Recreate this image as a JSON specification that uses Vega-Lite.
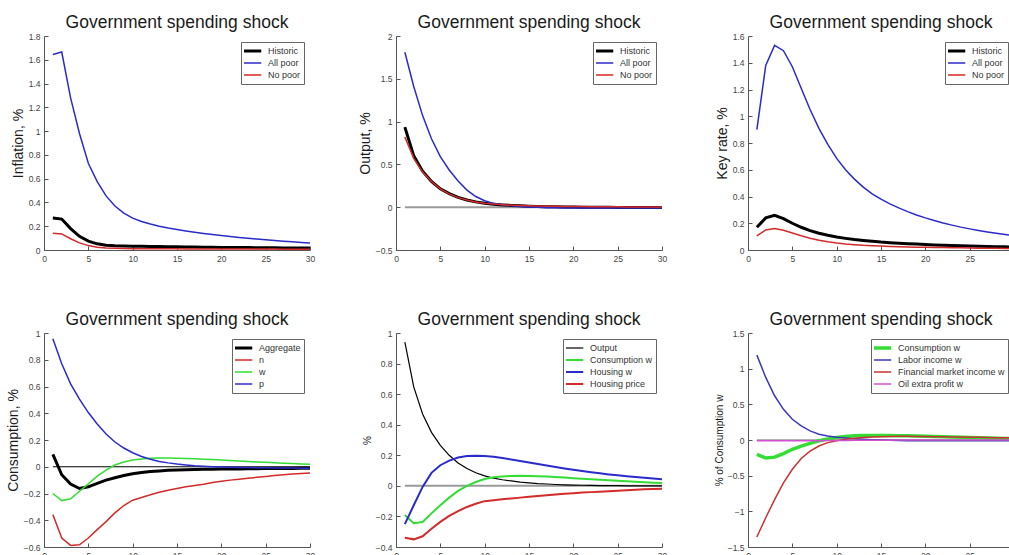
{
  "$schema": "https://vega.github.io/schema/vega-lite/v6.json",
  "autosize": {"type": "pad"},
  "padding": {"left": 6, "top": 13, "right": 0, "bottom": 0},
  "background": "white",
  "config": {
    "font": "Liberation Sans",
    "view": {"stroke": null},
    "title": {"fontSize": 17.5, "fontWeight": "normal", "color": "#1a1a1a", "font": "Liberation Sans", "baseline": "alphabetic", "offset": 1, "frame": "group"},
    "axis": {"grid": false, "domainColor": "#555", "tickColor": "#555", "tickSize": -4, "labelPadding": 8, "labelFontSize": 8.5, "labelColor": "#444", "labelFont": "Liberation Sans", "titleFont": "Liberation Sans", "titleFontWeight": "normal", "titleColor": "#1a1a1a", "titleFontSize": 14, "titlePadding": 3, "labelFlush": false, "labelOverlap": false},
    "legend": {"orient": "top-right", "offset": 6, "strokeColor": "#666", "fillColor": "white", "padding": 3, "symbolType": "stroke", "symbolSize": 650, "clipHeight": 12, "labelFontSize": 9, "labelColor": "#333", "labelFont": "Liberation Sans", "rowPadding": 0, "labelOffset": 15, "titlePadding": 0}
  },
  "datasets": {
    "inflation": [
      {"t":1,"Historic":0.27,"All poor":1.645,"No poor":0.14},
      {"t":2,"Historic":0.26,"All poor":1.665,"No poor":0.135},
      {"t":3,"Historic":0.18,"All poor":1.28,"No poor":0.095},
      {"t":4,"Historic":0.115,"All poor":0.98,"No poor":0.06},
      {"t":5,"Historic":0.075,"All poor":0.73,"No poor":0.037},
      {"t":6,"Historic":0.052,"All poor":0.575,"No poor":0.024},
      {"t":7,"Historic":0.04,"All poor":0.455,"No poor":0.017},
      {"t":8,"Historic":0.035,"All poor":0.37,"No poor":0.014},
      {"t":9,"Historic":0.033,"All poor":0.31,"No poor":0.012},
      {"t":10,"Historic":0.032,"All poor":0.268,"No poor":0.011},
      {"t":11,"Historic":0.031,"All poor":0.24,"No poor":0.011},
      {"t":12,"Historic":0.03,"All poor":0.218,"No poor":0.01},
      {"t":13,"Historic":0.029,"All poor":0.2,"No poor":0.01},
      {"t":14,"Historic":0.028,"All poor":0.185,"No poor":0.01},
      {"t":15,"Historic":0.027,"All poor":0.172,"No poor":0.01},
      {"t":16,"Historic":0.026,"All poor":0.16,"No poor":0.009},
      {"t":17,"Historic":0.025,"All poor":0.149,"No poor":0.009},
      {"t":18,"Historic":0.024,"All poor":0.139,"No poor":0.009},
      {"t":19,"Historic":0.023,"All poor":0.13,"No poor":0.009},
      {"t":20,"Historic":0.022,"All poor":0.121,"No poor":0.009},
      {"t":21,"Historic":0.021,"All poor":0.113,"No poor":0.008},
      {"t":22,"Historic":0.02,"All poor":0.106,"No poor":0.008},
      {"t":23,"Historic":0.02,"All poor":0.099,"No poor":0.008},
      {"t":24,"Historic":0.019,"All poor":0.092,"No poor":0.008},
      {"t":25,"Historic":0.018,"All poor":0.086,"No poor":0.008},
      {"t":26,"Historic":0.018,"All poor":0.08,"No poor":0.008},
      {"t":27,"Historic":0.017,"All poor":0.074,"No poor":0.007},
      {"t":28,"Historic":0.017,"All poor":0.069,"No poor":0.007},
      {"t":29,"Historic":0.016,"All poor":0.064,"No poor":0.007},
      {"t":30,"Historic":0.016,"All poor":0.059,"No poor":0.007}
    ],
    "output": [
      {"t":1,"Historic":0.935,"All poor":1.81,"No poor":0.82},
      {"t":2,"Historic":0.6,"All poor":1.41,"No poor":0.57},
      {"t":3,"Historic":0.42,"All poor":1.07,"No poor":0.41},
      {"t":4,"Historic":0.3,"All poor":0.8,"No poor":0.3},
      {"t":5,"Historic":0.215,"All poor":0.59,"No poor":0.215},
      {"t":6,"Historic":0.158,"All poor":0.435,"No poor":0.155},
      {"t":7,"Historic":0.115,"All poor":0.305,"No poor":0.112},
      {"t":8,"Historic":0.085,"All poor":0.2,"No poor":0.083},
      {"t":9,"Historic":0.062,"All poor":0.125,"No poor":0.062},
      {"t":10,"Historic":0.046,"All poor":0.075,"No poor":0.047},
      {"t":11,"Historic":0.035,"All poor":0.045,"No poor":0.036},
      {"t":12,"Historic":0.027,"All poor":0.028,"No poor":0.029},
      {"t":13,"Historic":0.021,"All poor":0.017,"No poor":0.023},
      {"t":14,"Historic":0.016,"All poor":0.009,"No poor":0.019},
      {"t":15,"Historic":0.012,"All poor":0.003,"No poor":0.016},
      {"t":16,"Historic":0.009,"All poor":-0.002,"No poor":0.013},
      {"t":17,"Historic":0.006,"All poor":-0.005,"No poor":0.011},
      {"t":18,"Historic":0.004,"All poor":-0.007,"No poor":0.01},
      {"t":19,"Historic":0.002,"All poor":-0.008,"No poor":0.009},
      {"t":20,"Historic":0.001,"All poor":-0.009,"No poor":0.008},
      {"t":21,"Historic":0,"All poor":-0.01,"No poor":0.007},
      {"t":22,"Historic":-0.001,"All poor":-0.01,"No poor":0.006},
      {"t":23,"Historic":-0.002,"All poor":-0.01,"No poor":0.005},
      {"t":24,"Historic":-0.002,"All poor":-0.01,"No poor":0.005},
      {"t":25,"Historic":-0.003,"All poor":-0.01,"No poor":0.004},
      {"t":26,"Historic":-0.003,"All poor":-0.01,"No poor":0.003},
      {"t":27,"Historic":-0.004,"All poor":-0.01,"No poor":0.003},
      {"t":28,"Historic":-0.004,"All poor":-0.01,"No poor":0.002},
      {"t":29,"Historic":-0.004,"All poor":-0.01,"No poor":0.002},
      {"t":30,"Historic":-0.004,"All poor":-0.01,"No poor":0.002}
    ],
    "keyrate": [
      {"t":1,"Historic":0.17,"All poor":0.9,"No poor":0.105},
      {"t":2,"Historic":0.24,"All poor":1.38,"No poor":0.15},
      {"t":3,"Historic":0.26,"All poor":1.53,"No poor":0.16},
      {"t":4,"Historic":0.235,"All poor":1.49,"No poor":0.147},
      {"t":5,"Historic":0.2,"All poor":1.37,"No poor":0.127},
      {"t":6,"Historic":0.17,"All poor":1.21,"No poor":0.106},
      {"t":7,"Historic":0.145,"All poor":1.05,"No poor":0.088},
      {"t":8,"Historic":0.125,"All poor":0.91,"No poor":0.073},
      {"t":9,"Historic":0.11,"All poor":0.79,"No poor":0.061},
      {"t":10,"Historic":0.097,"All poor":0.685,"No poor":0.052},
      {"t":11,"Historic":0.087,"All poor":0.6,"No poor":0.045},
      {"t":12,"Historic":0.078,"All poor":0.53,"No poor":0.04},
      {"t":13,"Historic":0.071,"All poor":0.47,"No poor":0.035},
      {"t":14,"Historic":0.065,"All poor":0.42,"No poor":0.032},
      {"t":15,"Historic":0.059,"All poor":0.38,"No poor":0.029},
      {"t":16,"Historic":0.055,"All poor":0.345,"No poor":0.027},
      {"t":17,"Historic":0.051,"All poor":0.315,"No poor":0.025},
      {"t":18,"Historic":0.047,"All poor":0.287,"No poor":0.023},
      {"t":19,"Historic":0.044,"All poor":0.262,"No poor":0.021},
      {"t":20,"Historic":0.041,"All poor":0.24,"No poor":0.02},
      {"t":21,"Historic":0.038,"All poor":0.22,"No poor":0.019},
      {"t":22,"Historic":0.036,"All poor":0.202,"No poor":0.018},
      {"t":23,"Historic":0.034,"All poor":0.186,"No poor":0.017},
      {"t":24,"Historic":0.032,"All poor":0.171,"No poor":0.016},
      {"t":25,"Historic":0.03,"All poor":0.158,"No poor":0.015},
      {"t":26,"Historic":0.028,"All poor":0.146,"No poor":0.014},
      {"t":27,"Historic":0.026,"All poor":0.135,"No poor":0.013},
      {"t":28,"Historic":0.025,"All poor":0.125,"No poor":0.013},
      {"t":29,"Historic":0.024,"All poor":0.116,"No poor":0.012},
      {"t":30,"Historic":0.022,"All poor":0.108,"No poor":0.012}
    ],
    "consumption": [
      {"t":1,"Aggregate":0.093,"n":-0.358,"w":-0.2,"p":0.957},
      {"t":2,"Aggregate":-0.06,"n":-0.533,"w":-0.253,"p":0.77},
      {"t":3,"Aggregate":-0.13,"n":-0.588,"w":-0.24,"p":0.62},
      {"t":4,"Aggregate":-0.163,"n":-0.583,"w":-0.183,"p":0.505},
      {"t":5,"Aggregate":-0.15,"n":-0.533,"w":-0.128,"p":0.405},
      {"t":6,"Aggregate":-0.125,"n":-0.47,"w":-0.07,"p":0.32},
      {"t":7,"Aggregate":-0.1,"n":-0.41,"w":-0.025,"p":0.245},
      {"t":8,"Aggregate":-0.082,"n":-0.345,"w":0.013,"p":0.185},
      {"t":9,"Aggregate":-0.065,"n":-0.29,"w":0.035,"p":0.14},
      {"t":10,"Aggregate":-0.052,"n":-0.25,"w":0.05,"p":0.105},
      {"t":11,"Aggregate":-0.043,"n":-0.23,"w":0.058,"p":0.077},
      {"t":12,"Aggregate":-0.036,"n":-0.21,"w":0.063,"p":0.056},
      {"t":13,"Aggregate":-0.031,"n":-0.19,"w":0.065,"p":0.04},
      {"t":14,"Aggregate":-0.027,"n":-0.175,"w":0.065,"p":0.029},
      {"t":15,"Aggregate":-0.024,"n":-0.162,"w":0.064,"p":0.02},
      {"t":16,"Aggregate":-0.022,"n":-0.15,"w":0.062,"p":0.013},
      {"t":17,"Aggregate":-0.02,"n":-0.14,"w":0.06,"p":0.007},
      {"t":18,"Aggregate":-0.019,"n":-0.13,"w":0.057,"p":0.003},
      {"t":19,"Aggregate":-0.018,"n":-0.118,"w":0.054,"p":0},
      {"t":20,"Aggregate":-0.017,"n":-0.108,"w":0.05,"p":-0.002},
      {"t":21,"Aggregate":-0.016,"n":-0.1,"w":0.047,"p":-0.004},
      {"t":22,"Aggregate":-0.016,"n":-0.093,"w":0.043,"p":-0.005},
      {"t":23,"Aggregate":-0.015,"n":-0.086,"w":0.04,"p":-0.006},
      {"t":24,"Aggregate":-0.015,"n":-0.079,"w":0.036,"p":-0.007},
      {"t":25,"Aggregate":-0.014,"n":-0.072,"w":0.033,"p":-0.008},
      {"t":26,"Aggregate":-0.014,"n":-0.066,"w":0.03,"p":-0.009},
      {"t":27,"Aggregate":-0.013,"n":-0.06,"w":0.027,"p":-0.01},
      {"t":28,"Aggregate":-0.013,"n":-0.055,"w":0.024,"p":-0.01},
      {"t":29,"Aggregate":-0.012,"n":-0.05,"w":0.021,"p":-0.011},
      {"t":30,"Aggregate":-0.012,"n":-0.046,"w":0.018,"p":-0.011}
    ],
    "housing": [
      {"t":1,"Output":0.94,"Consumption w":-0.19,"Housing w":-0.25,"Housing price":-0.34},
      {"t":2,"Output":0.647,"Consumption w":-0.245,"Housing w":-0.127,"Housing price":-0.35},
      {"t":3,"Output":0.47,"Consumption w":-0.237,"Housing w":-0.007,"Housing price":-0.33},
      {"t":4,"Output":0.35,"Consumption w":-0.18,"Housing w":0.085,"Housing price":-0.28},
      {"t":5,"Output":0.265,"Consumption w":-0.127,"Housing w":0.135,"Housing price":-0.236},
      {"t":6,"Output":0.2,"Consumption w":-0.077,"Housing w":0.165,"Housing price":-0.197},
      {"t":7,"Output":0.15,"Consumption w":-0.033,"Housing w":0.185,"Housing price":-0.165},
      {"t":8,"Output":0.113,"Consumption w":0,"Housing w":0.195,"Housing price":-0.138},
      {"t":9,"Output":0.086,"Consumption w":0.025,"Housing w":0.197,"Housing price":-0.117},
      {"t":10,"Output":0.065,"Consumption w":0.045,"Housing w":0.195,"Housing price":-0.1},
      {"t":11,"Output":0.05,"Consumption w":0.056,"Housing w":0.19,"Housing price":-0.094},
      {"t":12,"Output":0.04,"Consumption w":0.062,"Housing w":0.182,"Housing price":-0.088},
      {"t":13,"Output":0.032,"Consumption w":0.065,"Housing w":0.173,"Housing price":-0.082},
      {"t":14,"Output":0.025,"Consumption w":0.066,"Housing w":0.163,"Housing price":-0.077},
      {"t":15,"Output":0.02,"Consumption w":0.065,"Housing w":0.153,"Housing price":-0.072},
      {"t":16,"Output":0.015,"Consumption w":0.063,"Housing w":0.143,"Housing price":-0.067},
      {"t":17,"Output":0.012,"Consumption w":0.061,"Housing w":0.133,"Housing price":-0.062},
      {"t":18,"Output":0.009,"Consumption w":0.058,"Housing w":0.123,"Housing price":-0.057},
      {"t":19,"Output":0.007,"Consumption w":0.054,"Housing w":0.114,"Housing price":-0.052},
      {"t":20,"Output":0.005,"Consumption w":0.05,"Housing w":0.105,"Housing price":-0.048},
      {"t":21,"Output":0.004,"Consumption w":0.047,"Housing w":0.097,"Housing price":-0.044},
      {"t":22,"Output":0.003,"Consumption w":0.043,"Housing w":0.089,"Housing price":-0.041},
      {"t":23,"Output":0.002,"Consumption w":0.04,"Housing w":0.082,"Housing price":-0.038},
      {"t":24,"Output":0.001,"Consumption w":0.036,"Housing w":0.075,"Housing price":-0.035},
      {"t":25,"Output":0.001,"Consumption w":0.033,"Housing w":0.069,"Housing price":-0.032},
      {"t":26,"Output":0,"Consumption w":0.03,"Housing w":0.063,"Housing price":-0.029},
      {"t":27,"Output":0,"Consumption w":0.027,"Housing w":0.058,"Housing price":-0.026},
      {"t":28,"Output":0,"Consumption w":0.024,"Housing w":0.053,"Housing price":-0.023},
      {"t":29,"Output":0,"Consumption w":0.021,"Housing w":0.048,"Housing price":-0.021},
      {"t":30,"Output":0,"Consumption w":0.019,"Housing w":0.044,"Housing price":-0.019}
    ],
    "income": [
      {"t":1,"Consumption w":-0.2,"Labor income w":1.19,"Financial market income w":-1.36,"Oil extra profit w":-0.012},
      {"t":2,"Consumption w":-0.253,"Labor income w":0.877,"Financial market income w":-1.09,"Oil extra profit w":-0.012},
      {"t":3,"Consumption w":-0.24,"Labor income w":0.62,"Financial market income w":-0.835,"Oil extra profit w":-0.012},
      {"t":4,"Consumption w":-0.19,"Labor income w":0.43,"Financial market income w":-0.6,"Oil extra profit w":-0.011},
      {"t":5,"Consumption w":-0.13,"Labor income w":0.29,"Financial market income w":-0.41,"Oil extra profit w":-0.011},
      {"t":6,"Consumption w":-0.085,"Labor income w":0.197,"Financial market income w":-0.26,"Oil extra profit w":-0.01},
      {"t":7,"Consumption w":-0.047,"Labor income w":0.127,"Financial market income w":-0.155,"Oil extra profit w":-0.01},
      {"t":8,"Consumption w":-0.01,"Labor income w":0.08,"Financial market income w":-0.084,"Oil extra profit w":-0.009},
      {"t":9,"Consumption w":0.015,"Labor income w":0.056,"Financial market income w":-0.037,"Oil extra profit w":-0.008},
      {"t":10,"Consumption w":0.037,"Labor income w":0.04,"Financial market income w":-0.01,"Oil extra profit w":-0.007},
      {"t":11,"Consumption w":0.05,"Labor income w":0.028,"Financial market income w":0.01,"Oil extra profit w":-0.006},
      {"t":12,"Consumption w":0.058,"Labor income w":0.018,"Financial market income w":0.025,"Oil extra profit w":-0.005},
      {"t":13,"Consumption w":0.062,"Labor income w":0.01,"Financial market income w":0.035,"Oil extra profit w":-0.004},
      {"t":14,"Consumption w":0.064,"Labor income w":0.004,"Financial market income w":0.042,"Oil extra profit w":-0.003},
      {"t":15,"Consumption w":0.064,"Labor income w":0,"Financial market income w":0.047,"Oil extra profit w":-0.002},
      {"t":16,"Consumption w":0.063,"Labor income w":-0.004,"Financial market income w":0.05,"Oil extra profit w":-0.002},
      {"t":17,"Consumption w":0.061,"Labor income w":-0.007,"Financial market income w":0.051,"Oil extra profit w":-0.001},
      {"t":18,"Consumption w":0.058,"Labor income w":-0.009,"Financial market income w":0.051,"Oil extra profit w":-0.001},
      {"t":19,"Consumption w":0.055,"Labor income w":-0.01,"Financial market income w":0.05,"Oil extra profit w":0},
      {"t":20,"Consumption w":0.051,"Labor income w":-0.011,"Financial market income w":0.049,"Oil extra profit w":0},
      {"t":21,"Consumption w":0.048,"Labor income w":-0.011,"Financial market income w":0.047,"Oil extra profit w":0},
      {"t":22,"Consumption w":0.044,"Labor income w":-0.011,"Financial market income w":0.045,"Oil extra profit w":0.001},
      {"t":23,"Consumption w":0.041,"Labor income w":-0.011,"Financial market income w":0.043,"Oil extra profit w":0.001},
      {"t":24,"Consumption w":0.037,"Labor income w":-0.011,"Financial market income w":0.041,"Oil extra profit w":0.001},
      {"t":25,"Consumption w":0.034,"Labor income w":-0.011,"Financial market income w":0.039,"Oil extra profit w":0.001},
      {"t":26,"Consumption w":0.031,"Labor income w":-0.011,"Financial market income w":0.037,"Oil extra profit w":0.001},
      {"t":27,"Consumption w":0.028,"Labor income w":-0.011,"Financial market income w":0.035,"Oil extra profit w":0.001},
      {"t":28,"Consumption w":0.025,"Labor income w":-0.011,"Financial market income w":0.033,"Oil extra profit w":0.001},
      {"t":29,"Consumption w":0.022,"Labor income w":-0.011,"Financial market income w":0.031,"Oil extra profit w":0.001},
      {"t":30,"Consumption w":0.02,"Labor income w":-0.011,"Financial market income w":0.03,"Oil extra profit w":0.001}
    ]
  },
  "columns": 3,
  "spacing": {"row": 83, "column": 86},
  "bounds": "flush",
  "resolve": {"scale": {"color": "independent", "x": "independent", "y": "independent"}, "legend": {"color": "independent"}, "axis": {"x": "independent", "y": "independent"}},
  "concat": [
    {
      "width": 266, "height": 214,
      "title": "Government spending shock",
      "data": {"name": "inflation"},
      "transform": [{"fold": ["Historic", "All poor", "No poor"], "as": ["series", "v"]}],
      "mark": {"type": "line", "clip": true},
      "encoding": {
        "x": {"field": "t", "type": "quantitative", "scale": {"domain": [0, 30], "nice": false}, "axis": {"values": [0, 5, 10, 15, 20, 25, 30], "title": null, "labelOverlap": false}},
        "y": {"field": "v", "type": "quantitative", "scale": {"domain": [0, 1.8], "nice": false}, "axis": {"values": [0, 0.2, 0.4, 0.6, 0.8, 1, 1.2, 1.4, 1.6, 1.8], "format": "~g", "title": "Inflation, %", "labelOverlap": false}},
        "color": {"field": "series", "type": "nominal", "scale": {"domain": ["Historic", "All poor", "No poor"], "range": ["#000000", "#2b2bcc", "#d42a2a"]}, "legend": {"title": null, "encode": {"symbols": {"update": {"strokeWidth": {"signal": "datum.value === 'Historic' ? 3 : 1.5"}}}}}},
        "strokeWidth": {"condition": {"test": "datum.series === 'Historic'", "value": 3}, "value": 1.5}
      }
    },
    {
      "width": 266, "height": 214,
      "title": "Government spending shock",
      "layer": [
        {
          "data": {"values": [{}]},
          "mark": {"type": "rule", "color": "#9a9a9a", "strokeWidth": 2},
          "encoding": {
            "x": {"datum": 1, "type": "quantitative", "axis": {"values": [0, 5, 10, 15, 20, 25, 30], "title": null, "labelOverlap": false}},
            "x2": {"datum": 30},
            "y": {"datum": 0, "type": "quantitative", "axis": {"values": [-0.5, 0, 0.5, 1, 1.5, 2], "format": "~g", "title": "Output, %", "labelOverlap": false}}
          }
        },
        {
          "data": {"name": "output"},
          "transform": [{"fold": ["Historic", "All poor", "No poor"], "as": ["series", "v"]}],
          "mark": {"type": "line", "clip": true},
          "encoding": {
            "x": {"field": "t", "type": "quantitative", "scale": {"domain": [0, 30], "nice": false}, "axis": {"values": [0, 5, 10, 15, 20, 25, 30], "title": null, "labelOverlap": false}},
            "y": {"field": "v", "type": "quantitative", "scale": {"domain": [-0.5, 2], "nice": false}, "axis": {"values": [-0.5, 0, 0.5, 1, 1.5, 2], "format": "~g", "title": "Output, %", "labelOverlap": false}},
            "color": {"field": "series", "type": "nominal", "scale": {"domain": ["Historic", "All poor", "No poor"], "range": ["#000000", "#2b2bcc", "#d42a2a"]}, "legend": {"title": null, "encode": {"symbols": {"update": {"strokeWidth": {"signal": "datum.value === 'Historic' ? 3 : 1.5"}}}}}},
            "strokeWidth": {"condition": {"test": "datum.series === 'Historic'", "value": 3}, "value": 1.5}
          }
        }
      ]
    },
    {
      "width": 266, "height": 214,
      "title": "Government spending shock",
      "data": {"name": "keyrate"},
      "transform": [{"fold": ["Historic", "All poor", "No poor"], "as": ["series", "v"]}],
      "mark": {"type": "line", "clip": true},
      "encoding": {
        "x": {"field": "t", "type": "quantitative", "scale": {"domain": [0, 30], "nice": false}, "axis": {"values": [0, 5, 10, 15, 20, 25, 30], "title": null, "labelOverlap": false}},
        "y": {"field": "v", "type": "quantitative", "scale": {"domain": [0, 1.6], "nice": false}, "axis": {"values": [0, 0.2, 0.4, 0.6, 0.8, 1, 1.2, 1.4, 1.6], "format": "~g", "title": "Key rate, %", "labelOverlap": false}},
        "color": {"field": "series", "type": "nominal", "scale": {"domain": ["Historic", "All poor", "No poor"], "range": ["#000000", "#2b2bcc", "#d42a2a"]}, "legend": {"title": null, "encode": {"symbols": {"update": {"strokeWidth": {"signal": "datum.value === 'Historic' ? 3 : 1.5"}}}}}},
        "strokeWidth": {"condition": {"test": "datum.series === 'Historic'", "value": 3}, "value": 1.5}
      }
    },
    {
      "width": 266, "height": 214,
      "title": "Government spending shock",
      "layer": [
        {
          "data": {"values": [{}]},
          "mark": {"type": "rule", "color": "#000000", "strokeWidth": 1},
          "encoding": {
            "x": {"datum": 1, "type": "quantitative", "axis": {"values": [0, 5, 10, 15, 20, 25, 30], "title": null, "labelOverlap": false}},
            "x2": {"datum": 30},
            "y": {"datum": 0, "type": "quantitative", "axis": {"values": [-0.6, -0.4, -0.2, 0, 0.2, 0.4, 0.6, 0.8, 1], "format": "~g", "title": "Consumption, %", "labelOverlap": false}}
          }
        },
        {
          "data": {"name": "consumption"},
          "transform": [{"fold": ["Aggregate", "n", "w", "p"], "as": ["series", "v"]}],
          "mark": {"type": "line", "clip": true},
          "encoding": {
            "x": {"field": "t", "type": "quantitative", "scale": {"domain": [0, 30], "nice": false}, "axis": {"values": [0, 5, 10, 15, 20, 25, 30], "title": null, "labelOverlap": false}},
            "y": {"field": "v", "type": "quantitative", "scale": {"domain": [-0.6, 1], "nice": false}, "axis": {"values": [-0.6, -0.4, -0.2, 0, 0.2, 0.4, 0.6, 0.8, 1], "format": "~g", "title": "Consumption, %", "labelOverlap": false}},
            "color": {"field": "series", "type": "nominal", "scale": {"domain": ["Aggregate", "n", "w", "p"], "range": ["#000000", "#d42a2a", "#33dd33", "#2b2bcc"]}, "legend": {"title": null, "encode": {"symbols": {"update": {"strokeWidth": {"signal": "datum.value === 'Aggregate' ? 3 : 1.5"}}}}}},
            "strokeWidth": {"condition": {"test": "datum.series === 'Aggregate'", "value": 3}, "value": 1.5}
          }
        }
      ]
    },
    {
      "width": 266, "height": 214,
      "title": "Government spending shock",
      "layer": [
        {
          "data": {"values": [{}]},
          "mark": {"type": "rule", "color": "#9a9a9a", "strokeWidth": 2},
          "encoding": {
            "x": {"datum": 1, "type": "quantitative", "axis": {"values": [0, 5, 10, 15, 20, 25, 30], "title": null, "labelOverlap": false}},
            "x2": {"datum": 30},
            "y": {"datum": 0, "type": "quantitative", "axis": {"values": [-0.4, -0.2, 0, 0.2, 0.4, 0.6, 0.8, 1], "format": "~g", "title": "%", "titleFontSize": 10, "labelOverlap": false}}
          }
        },
        {
          "data": {"name": "housing"},
          "transform": [{"fold": ["Output", "Consumption w", "Housing w", "Housing price"], "as": ["series", "v"]}],
          "mark": {"type": "line", "clip": true},
          "encoding": {
            "x": {"field": "t", "type": "quantitative", "scale": {"domain": [0, 30], "nice": false}, "axis": {"values": [0, 5, 10, 15, 20, 25, 30], "title": null, "labelOverlap": false}},
            "y": {"field": "v", "type": "quantitative", "scale": {"domain": [-0.4, 1], "nice": false}, "axis": {"values": [-0.4, -0.2, 0, 0.2, 0.4, 0.6, 0.8, 1], "format": "~g", "title": "%", "titleFontSize": 10, "labelOverlap": false}},
            "color": {"field": "series", "type": "nominal", "scale": {"domain": ["Output", "Consumption w", "Housing w", "Housing price"], "range": ["#000000", "#33dd33", "#2b2bcc", "#d42a2a"]}, "legend": {"title": null, "encode": {"symbols": {"update": {"strokeWidth": {"signal": "datum.value === 'Output' ? 1.2 : 2"}}}}}},
            "strokeWidth": {"condition": {"test": "datum.series === 'Output'", "value": 1.2}, "value": 2}
          }
        }
      ]
    },
    {
      "width": 266, "height": 214,
      "title": "Government spending shock",
      "layer": [
        {
          "data": {"values": [{}]},
          "mark": {"type": "rule", "color": "#9a9a9a", "strokeWidth": 1.5},
          "encoding": {
            "x": {"datum": 1, "type": "quantitative", "axis": {"values": [0, 5, 10, 15, 20, 25, 30], "title": null, "labelOverlap": false}},
            "x2": {"datum": 30},
            "y": {"datum": 0, "type": "quantitative", "axis": {"values": [-1.5, -1, -0.5, 0, 0.5, 1, 1.5], "format": "~g", "title": "% of Consumption w", "titleFontSize": 10, "labelOverlap": false}}
          }
        },
        {
          "data": {"name": "income"},
          "transform": [{"fold": ["Consumption w", "Labor income w", "Financial market income w", "Oil extra profit w"], "as": ["series", "v"]}],
          "mark": {"type": "line", "clip": true},
          "encoding": {
            "x": {"field": "t", "type": "quantitative", "scale": {"domain": [0, 30], "nice": false}, "axis": {"values": [0, 5, 10, 15, 20, 25, 30], "title": null, "labelOverlap": false}},
            "y": {"field": "v", "type": "quantitative", "scale": {"domain": [-1.5, 1.5], "nice": false}, "axis": {"values": [-1.5, -1, -0.5, 0, 0.5, 1, 1.5], "format": "~g", "title": "% of Consumption w", "titleFontSize": 10, "labelOverlap": false}},
            "color": {"field": "series", "type": "nominal", "scale": {"domain": ["Consumption w", "Labor income w", "Financial market income w", "Oil extra profit w"], "range": ["#33dd33", "#3a3ab8", "#c83232", "#d050d0"]}, "legend": {"title": null, "encode": {"symbols": {"update": {"strokeWidth": {"signal": "datum.value === 'Consumption w' ? 3.5 : 1.5"}}}}}},
            "strokeWidth": {"condition": {"test": "datum.series === 'Consumption w'", "value": 3.5}, "value": 1.5}
          }
        }
      ]
    }
  ]
}
